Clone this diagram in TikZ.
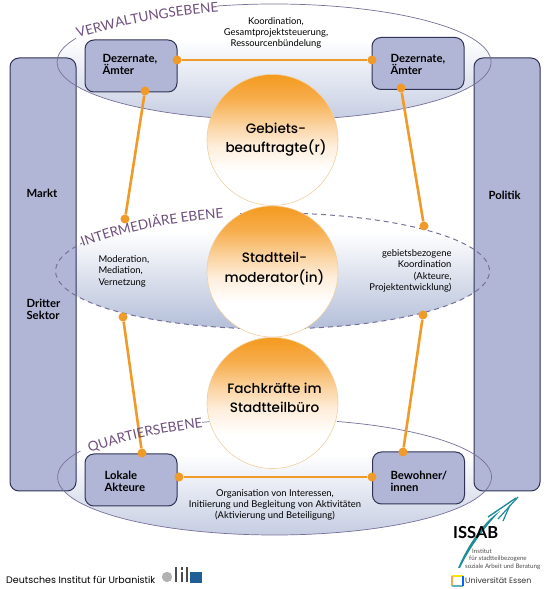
\documentclass[tikz,border=0pt]{standalone}
\usepackage{fontspec}
\setmainfont{Lato}
\newfontfamily\kreisfont{Poppins}[UprightFont=* Medium]
\newfontfamily\logofont{Poppins}
\usetikzlibrary{shapes.geometric, decorations.text}
\definecolor{panelblau}{HTML}{B2B6D6}
\definecolor{rand}{HTML}{2F3354}
\definecolor{linie}{HTML}{F09A2A}
\definecolor{kreisorange}{HTML}{F49A1E}
\definecolor{kreisrand}{HTML}{F0CFA0}
\definecolor{lila}{HTML}{6F4F7C}
\definecolor{ebenenrand}{HTML}{77709A}
\definecolor{nebel}{HTML}{C5CDE2}
\definecolor{nebelmitte}{HTML}{B3BED8}
\definecolor{tuerkis}{HTML}{1F8C9C}
\definecolor{difublau}{HTML}{1F5F96}
\definecolor{stufeA}{HTML}{FEEEDC}
\definecolor{stufeB}{HTML}{FBD6A6}
\definecolor{stufeC}{HTML}{F7AE4E}
\pgfdeclareverticalshading{ebenenverlauf}{100bp}{color(0bp)=(nebel); color(25bp)=(nebel); color(60bp)=(white); color(100bp)=(white)}
\pgfdeclareverticalshading{mitteverlauf}{100bp}{color(0bp)=(nebelmitte); color(25bp)=(nebelmitte); color(67bp)=(white); color(100bp)=(white)}
\pgfdeclareverticalshading{kreisverlauf}{100bp}{color(0bp)=(white); color(38bp)=(white); color(47.5bp)=(stufeA); color(55bp)=(stufeB); color(65.5bp)=(stufeC); color(75bp)=(kreisorange); color(100bp)=(kreisorange)}
\tikzset{
  panel/.style     = {rectangle, draw=rand, line width=1pt, rounded corners=9pt, fill=panelblau, minimum width=66pt, minimum height=433pt},
  amt/.style       = {rectangle, draw=rand, line width=1pt, rounded corners=9pt, fill=panelblau, minimum width=92pt, minimum height=52pt},
  ebene/.style     = {ellipse, shading=ebenenverlauf, minimum width=434pt, minimum height=116pt, inner sep=0pt},
  kreis/.style     = {circle, draw=kreisrand, line width=.6pt, shading=kreisverlauf, minimum size=131pt, inner sep=0pt},
  kreistext/.style = {align=center, inner sep=0pt, font=\kreisfont\fontsize{13.6}{19.5}\selectfont},
  punkt/.style     = {circle, fill=linie, minimum size=9pt, inner sep=0pt},
  verbindung/.style = {draw=linie, line width=2.6pt},
  titel/.style     = {font=\bfseries\fontsize{11.3}{12}\selectfont, align=left, text=black},
  notiz/.style     = {font=\fontsize{9.4}{11.4}\selectfont, text=black},
  logotext/.style  = {font=\logofont\fontsize{9.5}{11}\selectfont, inner sep=0pt},
  ebenenlinie/.style = {draw=ebenenrand, line width=.7pt},
  gestrichelt/.style = {line width=1pt, dash pattern=on 5pt off 4pt},
  ebenentitel/.style = {decorate, decoration={text along path, text color=lila,
      text={#1}}}
}
\begin{document}
\begin{tikzpicture}[x=1pt, y=1pt]
  \useasboundingbox (0,0) rectangle (550,589);
  \fill[white] (0,0) rectangle (550,589);

  % Ebenen
  \node[ebene] (verwaltung) at (274,527) {};
  \node[ebene, shading=mitteverlauf] (intermediaer) at (272.5,318) {};
  \node[ebene] (quartier) at (274.5,112) {};

  % Seiten
  \node[panel] (markt) at (43,314.5) {};
  \node[panel] (politik) at (507,314.5) {};

  % Ebenen, Rand
  \draw[ebenenlinie] ([shift={(105.2:217pt and 58pt)}]verwaltung.center) arc[start angle=105.2, end angle=-204.2, x radius=217pt, y radius=58pt];
  \draw[ebenenlinie, gestrichelt] ([shift={(98.6:217pt and 58pt)}]intermediaer.center) arc[start angle=98.6, end angle=-208.6, x radius=217pt, y radius=58pt];
  \draw[ebenenlinie] ([shift={(73.3:217pt and 58pt)}]quartier.center) arc[start angle=73.3, end angle=-206.6, x radius=217pt, y radius=58pt];
  \draw[ebenenlinie] ([shift={(109.5:217pt and 58pt)}]quartier.center) arc[start angle=109.5, end angle=104, x radius=217pt, y radius=58pt];

  % Kreise
  \node[kreis] (beauftragte) at (272.5,449) {};
  \node[kreis] (moderator) at (272.5,317.5) {};
  \node[kreis] (fachkraefte) at (272.5,186) {};
  \node[kreistext] (beauftragtetext) at (276,449.5) {Gebiets-\\beauftragte(r)};
  \node[kreistext] (moderatortext) at (274.5,320.5) {Stadtteil-\\moderator(in)};
  \node[kreistext] (fachkraeftetext) at (274.5,191) {Fachkräfte im\\Stadtteilbüro};

  % Aemter
  \node[amt] (dezlinks) at (131,523) {};
  \node[amt] (dezrechts) at (418,525.5) {};
  \node[amt] (lokale) at (131,109) {};
  \node[amt] (bewohner) at (418.5,111) {};

  % Punkte
  \node[punkt] (p1) at (177,529) {};
  \node[punkt] (p2) at (372,529) {};
  \node[punkt] (p3) at (145,498) {};
  \node[punkt] (p4) at (125,370) {};
  \node[punkt] (p5) at (401,501) {};
  \node[punkt] (p6) at (424,363) {};
  \node[punkt] (p7) at (123,272) {};
  \node[punkt] (p8) at (142,136) {};
  \node[punkt] (p9) at (423,274) {};
  \node[punkt] (p10) at (403,137) {};
  \node[punkt] (p11) at (179,112) {};
  \node[punkt] (p12) at (372,112) {};

  \draw[verbindung] (p1) -- (p2);
  \draw[verbindung] (p3) -- (p4);
  \draw[verbindung] (p5) -- (p6);
  \draw[verbindung] (p7) -- (p8);
  \draw[verbindung] (p9) -- (p10);
  \draw[verbindung] (p11) -- (p12);

  % Texte
  \node[titel, anchor=west] (markttext) at (23,396) {Markt};
  \node[titel, anchor=west] (drittertext) at (23,280) {Dritter\\Sektor};
  \node[titel, anchor=west] (politiktext) at (485,394) {Politik};
  \node[titel, anchor=west] (dez1text) at (99,525) {Dezernate,\\Ämter};
  \node[titel, anchor=west] (dez2text) at (387,525) {Dezernate,\\Ämter};
  \node[titel, anchor=west] (lokaletext) at (101,108) {Lokale\\Akteure};
  \node[titel, anchor=west] (bewohnertext) at (387,108) {Bewohner/\\innen};

  \node[notiz, align=center] (koord) at (276,556) {Koordination,\\Gesamtprojektsteuerung,\\Ressourcenbündelung};
  \node[notiz, align=left, anchor=west] (moder) at (95,318) {Moderation,\\Mediation,\\Vernetzung};
  \node[notiz, align=right, anchor=east] (gebiet) at (455,318) {gebietsbezogene\\Koordination\\(Akteure,\\Projektentwicklung)};
  \node[notiz, align=center] (orga) at (275,84) {Organisation von Interessen,\\Initiierung und Begleitung von Aktivitäten\\(Aktivierung und Beteiligung)};

  % Ebenen, Titel
  \path[ebenentitel={|\fontsize{13.5}{14}\selectfont|VERWALTUNGSEBENE}] (78,551) .. controls (115,562) and (170,575) .. (240,578);
  \path[ebenentitel={|\fontsize{13.5}{14}\selectfont|INTERMEDIÄRE EBENE}] (83,342) .. controls (115,354) and (165,368) .. (240,372);
  \path[ebenentitel={|\fontsize{13.5}{14}\selectfont|QUARTIERSEBENE}] (90,136) .. controls (120,148) and (165,158) .. (225,164);

  % difu
  \node[logotext, anchor=west] (difu) at (6,9) {Deutsches Institut für Urbanistik};
  \fill[gray!60] (167,12) circle (5.2pt);
  \fill[black!70] (175,7) rectangle (177,22);
  \fill[black!70] (181,7) rectangle (183,17);
  \fill[black!70] (181,19) rectangle (183,22);
  \fill[black!70] (186,7) rectangle (188,22);
  \fill[difublau] (190,6) rectangle (202,17);

  % ISSAB
  \fill[tuerkis] (458,21) .. controls (467,42) and (482,66) .. (500,78) .. controls (485,62) and (470,42) .. (460,21) -- cycle;
  \draw[tuerkis, line width=1.4pt] (488,72) -- (516,91);
  \draw[tuerkis, line width=1.2pt] (498,70) -- (518,92);
  \draw[tuerkis, line width=1.2pt] (503,68) -- (510,84);
  \node[font=\bfseries\fontsize{16.5}{16}\selectfont, inner sep=0pt, anchor=west] (issab) at (453,56) {ISSAB};
  \node[font=\fontsize{6.2}{7.3}\selectfont, align=left, inner sep=0pt, anchor=west, text=black!70] (institut) at (465,30) {\hspace*{7pt}Institut\\\hspace*{4pt}für stadtteilbezogene\\soziale Arbeit und Beratung};
  \node[font=\logofont\fontsize{7.9}{9}\selectfont, inner sep=0pt, anchor=west, text=black!80] (essen) at (465,8) {Universität Essen};
  \draw[yellow!85!orange, line width=2pt] (452,13) -- (463,13);
  \draw[orange!70, line width=2pt] (452,13) -- (452,3);
  \draw[green!50!blue!60, line width=2pt] (452,3) -- (463,3);
  \draw[blue!60!cyan, line width=2pt] (463,3) -- (463,13);
\end{tikzpicture}
\end{document}
